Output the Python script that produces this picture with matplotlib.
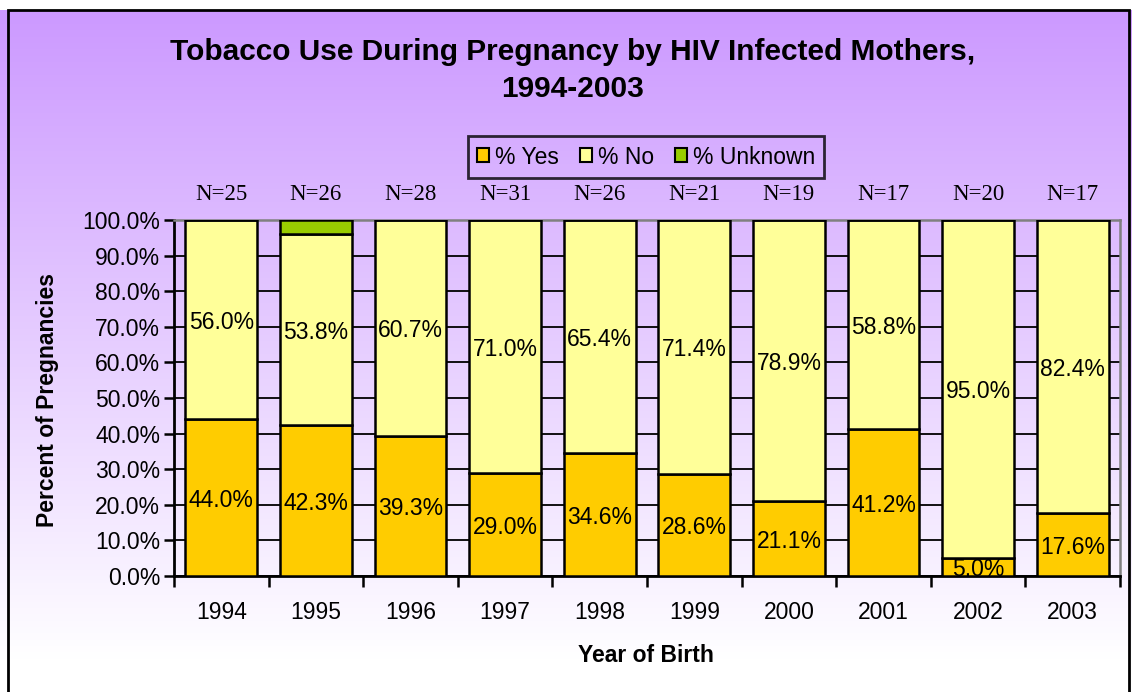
import numpy as np
import matplotlib
matplotlib.use("Agg")
import matplotlib.pyplot as plt
from matplotlib.patches import Rectangle, Patch
from matplotlib.colors import LinearSegmentedColormap

years = ["1994", "1995", "1996", "1997", "1998", "1999", "2000", "2001", "2002", "2003"]
n_labels = ["N=25", "N=26", "N=28", "N=31", "N=26", "N=21", "N=19", "N=17", "N=20", "N=17"]
pct_yes = [44.0, 42.3, 39.3, 29.0, 34.6, 28.6, 21.1, 41.2, 5.0, 17.6]
pct_no = [56.0, 53.8, 60.7, 71.0, 65.4, 71.4, 78.9, 58.8, 95.0, 82.4]
pct_unknown = [0.0, 3.9, 0.0, 0.0, 0.0, 0.0, 0.0, 0.0, 0.0, 0.0]
series_names = ["% Yes", "% No", "% Unknown"]
colors = ["#FFCC00", "#FFFF99", "#99CC00"]

W, H = 1132, 692
fig = plt.figure(figsize=(W / 100, H / 100), dpi=100)
plt.rcParams['font.family'] = ['Liberation Sans', 'DejaVu Sans']

# background gradient
bg = fig.add_axes([0, 0, 1, 1], zorder=-10)
cmap = LinearSegmentedColormap.from_list("g", ["#CC99FF", "#FFFFFF"])
grad = np.linspace(0, 1, 256).reshape(-1, 1)
bg.imshow(grad, aspect="auto", cmap=cmap, extent=[0, 1, 1 - 660 / H, 1 - 10 / H], origin="upper")
bg.set_xlim(0, 1)
bg.set_ylim(0, 1)
bg.set_axis_off()
bg.add_patch(Rectangle((8 / W, -0.01), (W - 11) / W, (H - 10) / H + 0.01,
                       transform=bg.transAxes, fill=False, edgecolor="black", lw=2))

L, R, T, B = 174, 1120, 220, 576
ax = fig.add_axes([L / W, (H - B) / H, (R - L) / W, (B - T) / H])
ax.patch.set_alpha(0)

x = np.arange(len(years))
bw = 0.76
bottom_no = np.array(pct_yes)
bottom_unk = bottom_no + np.array(pct_no)
ax.bar(x, pct_yes, bw, color=colors[0], edgecolor="black", lw=1.8, zorder=3)
ax.bar(x, pct_no, bw, bottom=bottom_no, color=colors[1], edgecolor="black", lw=1.8, zorder=3)
ax.bar(x, pct_unknown, bw, bottom=bottom_unk, color=colors[2], edgecolor="black", lw=1.8, zorder=3)

fs = 16.5
for i in range(len(years)):
    ax.text(x[i], pct_yes[i] / 2 - 0.8, f"{pct_yes[i]:.1f}%", ha="center", va="center",
            fontsize=fs, zorder=5, clip_on=True)
    ax.text(x[i], pct_yes[i] + pct_no[i] / 2 - 0.8, f"{pct_no[i]:.1f}%", ha="center", va="center",
            fontsize=fs, zorder=5, clip_on=True)
    ax.annotate(n_labels[i], xy=(x[i], 1), xycoords=("data", "axes fraction"),
                xytext=(0, 18.5), textcoords="offset points", ha="center", va="center",
                fontsize=16.5, family="Liberation Serif", annotation_clip=False)

ax.set_xlim(-0.5, len(years) - 0.5)
ax.set_ylim(0, 100)
ax.set_yticks(np.arange(0, 101, 10))
ax.set_yticklabels([f"{v:.1f}%" for v in range(0, 101, 10)], fontsize=fs)
ax.yaxis.grid(True, color="black", lw=1.3, zorder=0)
ax.set_axisbelow(True)
ax.tick_params(axis="y", direction="out", length=7, width=1.8, pad=3)

ax.set_xticks(np.arange(-0.5, len(years), 1))
ax.set_xticklabels([])
ax.tick_params(axis="x", which="major", direction="out", length=8, width=1.8)
ax.set_xticks(x, minor=True)
ax.set_xticklabels(years, minor=True, fontsize=fs)
ax.tick_params(axis="x", which="minor", length=0, pad=18)

for s in ["top", "right"]:
    ax.spines[s].set_color("#808080")
    ax.spines[s].set_linewidth(1.8)
for s in ["left", "bottom"]:
    ax.spines[s].set_color("black")
    ax.spines[s].set_linewidth(2)

fig.text(573 / W, 1 - 52 / H, "Tobacco Use During Pregnancy by HIV Infected Mothers,",
         ha="center", va="center", fontsize=21.5, fontweight="bold")
fig.text(573 / W, 1 - 89 / H, "1994-2003",
         ha="center", va="center", fontsize=21.5, fontweight="bold")
fig.text(48 / W, 1 - 400 / H, "Percent of Pregnancies", rotation=90,
         ha="center", va="center", fontsize=16.5, fontweight="bold")
fig.text(646 / W, 1 - 656 / H, "Year of Birth",
         ha="center", va="center", fontsize=16.5, fontweight="bold")

handles = [Patch(facecolor=c, edgecolor="black", lw=1.5) for c in colors]
leg = fig.legend(handles, series_names, loc="center", bbox_to_anchor=(646 / W, 1 - 157 / H),
                 ncol=3, fontsize=16.5, frameon=True, fancybox=False, handlelength=0.55,
                 handleheight=0.55, handletextpad=0.25, columnspacing=0.9, borderpad=0.4)
leg.get_frame().set_edgecolor("black")
leg.get_frame().set_linewidth(2)
leg.get_frame().set_facecolor("none")

fig.savefig("out.png", dpi=100)
